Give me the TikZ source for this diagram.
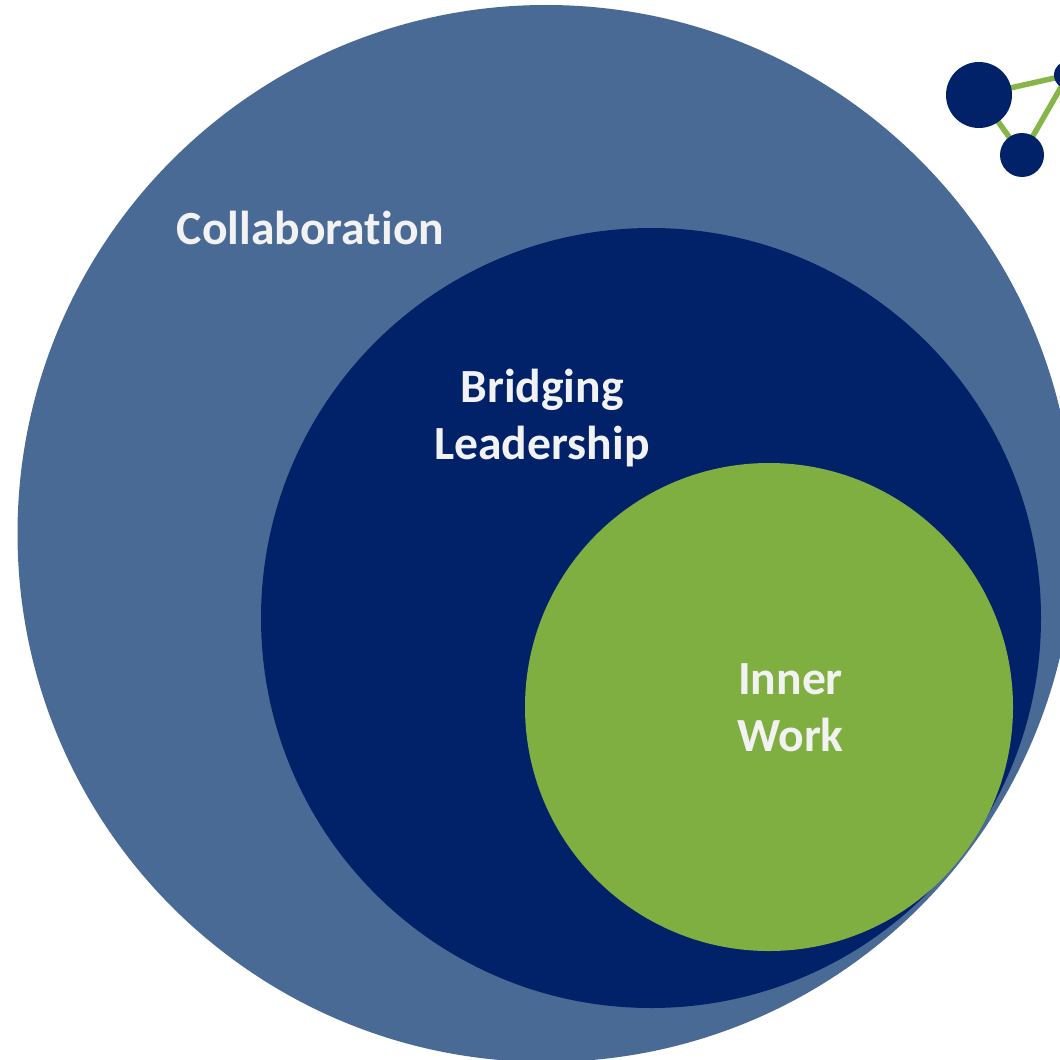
\documentclass[tikz,border=0pt]{standalone}
\usepackage{fontspec}
\setmainfont[Ligatures=CommonOff]{Carlito}
\definecolor{outerblue}{HTML}{4A6A96}
\definecolor{navy}{HTML}{012169}
\definecolor{leaf}{HTML}{80AF41}
\definecolor{linkgreen}{HTML}{86B548}
\definecolor{txt}{HTML}{F2F2F2}
\tikzset{px/.style={x=0.0283465cm,y=-0.0283465cm},
 disc/.style={circle,inner sep=0pt,outer sep=0pt,minimum size=#1*0.0283465cm},
 lab/.style={text=txt,font=\bfseries\fontsize{38.4}{45.8}\selectfont,align=center,inner sep=0pt},
 link/.style={draw=linkgreen,line width=4.4pt}}
\begin{document}
\begin{tikzpicture}[px]
\useasboundingbox (0,0) rectangle (1060,1060);
\begin{scope}
\clip (0,0) rectangle (1060,1060);
\node[disc=1057,fill=outerblue] (collab) at (546,533.5) {};
\node[disc=780,fill=navy] (bridge) at (651,618) {};
\node[disc=488,fill=leaf] (inner) at (769,707) {};
\coordinate (a) at (979,95);
\coordinate (b) at (1068,75);
\coordinate (c) at (1022,155);
\draw[link] (a) -- (b) -- (c);
\draw[link] (a) -- (c);
\node[disc=66,fill=navy] (n1) at (a) {};
\node[disc=28,fill=navy] (n2) at (b) {};
\node[disc=44,fill=navy] (n3) at (c) {};
\end{scope}
\node[lab] (t1) at (310.5,227.5) {Collaboration};
\node[lab] (t2) at (542,418) {Bridging\\Leadership};
\node[lab] (t3) at (790.5,708) {Inner\\Work};
\end{tikzpicture}
\end{document}
